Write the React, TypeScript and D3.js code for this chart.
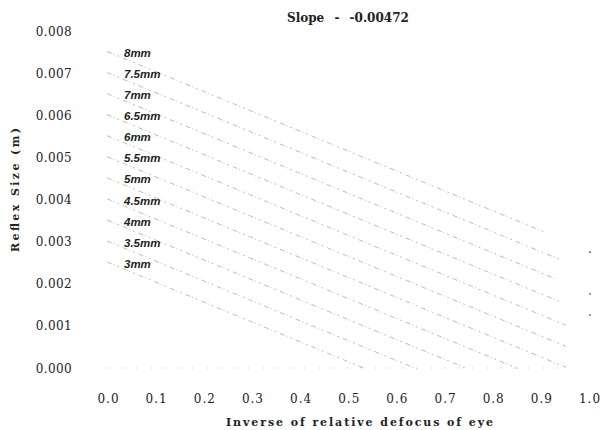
import React, { useEffect, useRef } from 'react';
import * as d3 from 'd3';

// pupil sizes and their fitted lines (common slope)
const sizes = ['3mm', '3.5mm', '4mm', '4.5mm', '5mm', '5.5mm', '6mm', '6.5mm', '7mm', '7.5mm', '8mm'];
const intercepts = [0.0025, 0.003, 0.0035, 0.004, 0.0045, 0.005, 0.0055, 0.006, 0.0065, 0.007, 0.0075];
const endX = [0.53, 0.64, 0.74, 0.85, 0.95, 0.95, 0.95, 0.94, 0.93, 0.94, 0.91];
const slope = -0.00472;
const strayX = [1.0, 1.0, 1.0];
const strayY = [0.00275, 0.00176, 0.00126];
const xTicks = [0, 0.1, 0.2, 0.3, 0.4, 0.5, 0.6, 0.7, 0.8, 0.9, 1.0];
const yTicks = [0, 0.001, 0.002, 0.003, 0.004, 0.005, 0.006, 0.007, 0.008];

const App = () => {
  const svgRef = useRef<SVGSVGElement>(null);

  useEffect(() => {
    const svg = d3.select(svgRef.current);
    svg.selectAll('*').remove();
    svg.attr('width', 600).attr('height', 430);

    const x = d3.scaleLinear().domain([0, 1]).range([108.5, 590]);
    const y = d3.scaleLinear().domain([0, 0.008]).range([368, 31]);
    const serif = '"DejaVu Serif", serif';

    svg.append('rect').attr('width', 600).attr('height', 430).attr('fill', '#fff');

    // title
    svg.append('text')
      .attr('x', 287).attr('y', 22)
      .attr('font-family', serif).attr('font-size', 12).attr('font-weight', 'bold')
      .attr('word-spacing', 6)
      .attr('fill', '#222')
      .text('Slope - -0.00472');

    // y tick labels
    svg.append('g').selectAll('text')
      .data(yTicks).enter().append('text')
      .attr('x', 72).attr('y', d => y(d) + 4.5)
      .attr('text-anchor', 'end')
      .attr('font-family', serif).attr('font-size', 12)
      .attr('letter-spacing', 0.4)
      .attr('fill', '#222')
      .text(d => d3.format('.3f')(d));

    // x tick labels
    svg.append('g').selectAll('text')
      .data(xTicks).enter().append('text')
      .attr('x', d => x(d)).attr('y', 403)
      .attr('text-anchor', 'middle')
      .attr('font-family', serif).attr('font-size', 12)
      .attr('letter-spacing', 1)
      .attr('fill', '#222')
      .text(d => d3.format('.1f')(d));

    // axis titles
    svg.append('text')
      .attr('x', 226).attr('y', 426)
      .attr('textLength', 267).attr('lengthAdjust', 'spacing')
      .attr('font-family', serif).attr('font-size', 11).attr('font-weight', 'bold')
      .attr('fill', '#222')
      .text('Inverse of relative defocus of eye');

    svg.append('text')
      .attr('transform', 'translate(19, 252) rotate(-90)')
      .attr('textLength', 124).attr('lengthAdjust', 'spacing')
      .attr('font-family', serif).attr('font-size', 11).attr('font-weight', 'bold')
      .attr('fill', '#222')
      .text('Reflex Size (m)');

    // faint dotted baseline
    svg.append('line')
      .attr('x1', x(0)).attr('x2', x(0.95))
      .attr('y1', y(0)).attr('y2', y(0))
      .attr('stroke', '#999').attr('stroke-width', 1.2)
      .attr('stroke-dasharray', '1 13').attr('opacity', 0.6);

    const line = d3.line<[number, number]>().x(d => x(d[0])).y(d => y(d[1]));
    const rows = sizes.map((s, i) => ({ s, b: intercepts[i], e: endX[i] }));

    svg.append('g').selectAll('path')
      .data(rows).enter().append('path')
      .attr('d', d => line([[-0.003, d.b - slope * 0.003], [d.e, d.b + slope * d.e]]))
      .attr('fill', 'none')
      .attr('stroke', '#777').attr('stroke-width', 1)
      .attr('stroke-dasharray', '5 2 1 3 2 4')
      .attr('opacity', 0.5);

    svg.append('g').selectAll('text')
      .data(rows).enter().append('text')
      .attr('x', 124).attr('y', d => y(d.b) + 5)
      .attr('font-family', '"Liberation Sans", Arial, sans-serif')
      .attr('font-size', 11.5).attr('font-weight', 'bold').attr('font-style', 'italic')
      .attr('fill', '#222')
      .text(d => d.s);

    svg.append('g').selectAll('circle')
      .data(strayX.map((v, i) => [v, strayY[i]])).enter().append('circle')
      .attr('cx', d => x(d[0])).attr('cy', d => y(d[1]))
      .attr('r', 0.9).attr('fill', '#555');
  }, []);

  return (
    <div style={{ position: 'absolute', left: 0, top: 0 }}>
      <svg ref={svgRef}></svg>
    </div>
  );
};

export default App;
